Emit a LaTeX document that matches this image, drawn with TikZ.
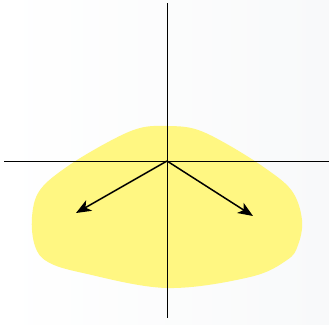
\documentclass[tikz,border=0pt]{standalone}
\usetikzlibrary{arrows.meta}
\definecolor{blob}{RGB}{255,247,130}
\definecolor{bgR}{RGB}{248,249,250}
\begin{document}
\begin{tikzpicture}[x=1pt,y=-1pt,
  axis/.style={black,line width=0.8pt},
  vec/.style={black,line width=1.5pt,-{Stealth[length=15pt,width=12pt,inset=4pt]}}]
\useasboundingbox (0,0) rectangle (329,324);
\shade[left color=white,right color=bgR] (0,0) rectangle (329,324);
\fill[blob] plot[smooth cycle,tension=0.6] coordinates {
 (167,126) (195,129) (225,143) (265,168) (292,191) (302,220) (298,245)
 (287,260) (250,277) (167,288) (83,273) (48,262) (35,246) (32,217)
 (40,190) (68,166) (110,141) (140,128)};
\coordinate (N) at (167,3);
\coordinate (S) at (167,318);
\coordinate (W) at (4,161);
\coordinate (E) at (329,161);
\coordinate (O) at (167,161);
\coordinate (A) at (76,213);
\coordinate (B) at (253,216);
\draw[axis] (N) -- (S);
\draw[axis] (W) -- (E);
\draw[vec] (O) -- (A);
\draw[vec] (O) -- (B);
\end{tikzpicture}
\end{document}
